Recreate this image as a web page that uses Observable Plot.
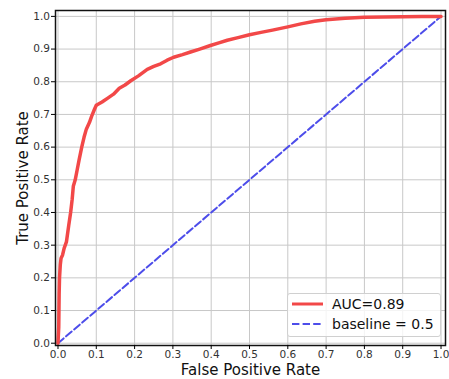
<!DOCTYPE html>
<html>
<head>
<meta charset="utf-8">
<script src="https://cdn.jsdelivr.net/npm/d3@7"></script>
<script src="https://cdn.jsdelivr.net/npm/@observablehq/plot@0.6"></script>
<style>
  html, body { margin: 0; padding: 0; background: #fff; }
  #wrap { position: relative; width: 449px; height: 379px; font-family: "DejaVu Sans", sans-serif; }
  #wrap svg { font-family: "DejaVu Sans", sans-serif; }
  .legend { position: absolute; left: 287px; top: 293px; width: 154px; height: 44px;
    background: rgba(255,255,255,0.8); border: 1px solid #d0d0d0; border-radius: 3px; box-sizing: border-box; }
  .legend .row { position: absolute; left: 0; height: 18px; display: flex; align-items: center; font-size: 14px; color: #111; white-space: nowrap; }
  .legend svg { margin-left: 4px; margin-right: 9px; }
</style>
</head>
<body>
<div id="wrap"></div>
<script>
// ROC curve
const fpr = [0, 0.002, 0.003, 0.004, 0.006, 0.008, 0.012, 0.016, 0.022, 0.028, 0.033, 0.037, 0.040, 0.045, 0.050, 0.055, 0.062, 0.068, 0.074, 0.082, 0.088, 0.095, 0.100, 0.115, 0.130, 0.145, 0.160, 0.175, 0.190, 0.210, 0.233, 0.250, 0.268, 0.285, 0.302, 0.325, 0.346, 0.370, 0.398, 0.420, 0.442, 0.470, 0.500, 0.530, 0.560, 0.600, 0.634, 0.670, 0.700, 0.750, 0.800, 0.850, 0.900, 0.950, 1.0];
const tpr = [0, 0.05, 0.15, 0.20, 0.24, 0.26, 0.27, 0.29, 0.31, 0.36, 0.40, 0.44, 0.48, 0.50, 0.53, 0.56, 0.60, 0.63, 0.655, 0.675, 0.695, 0.715, 0.728, 0.738, 0.750, 0.762, 0.780, 0.790, 0.803, 0.818, 0.838, 0.847, 0.855, 0.866, 0.875, 0.883, 0.891, 0.900, 0.911, 0.919, 0.927, 0.935, 0.944, 0.951, 0.958, 0.968, 0.977, 0.985, 0.990, 0.994, 0.997, 0.998, 0.999, 1.0, 1.0];
// Baseline (random classifier)
const baseX = [0, 1];
const baseY = [0, 1];
// Ticks
const ticks = [0, 0.1, 0.2, 0.3, 0.4, 0.5, 0.6, 0.7, 0.8, 0.9, 1.0];
const labels = { x: "False Positive Rate", y: "True Positive Rate", auc: "AUC=0.89", base: "baseline = 0.5" };

const roc = fpr.map((x, i) => ({x, y: tpr[i]}));
const base = baseX.map((x, i) => ({x, y: baseY[i]}));

const RED = "#f24848";
const BLUE = "#4d4dea";

const chart = Plot.plot({
  width: 449,
  height: 379,
  marginLeft: 55,
  marginRight: 4,
  marginTop: 10,
  marginBottom: 34,
  x: { domain: [-0.0065, 1.0117] },
  y: { domain: [-0.007, 1.018] },
  style: { fontFamily: "DejaVu Sans, sans-serif", background: "#fff" },
  marks: [
    Plot.gridX(ticks, { stroke: "#c8c8c8", strokeOpacity: 1, strokeWidth: 1 }),
    Plot.gridY(ticks, { stroke: "#c8c8c8", strokeOpacity: 1, strokeWidth: 1 }),
    Plot.line(base, { x: "x", y: "y", stroke: BLUE, strokeWidth: 2, strokeDasharray: "7.4,3.2" }),
    Plot.line(roc, { x: "x", y: "y", stroke: RED, strokeWidth: 3.5, curve: "linear" }),
    Plot.frame({ stroke: "#111", strokeWidth: 1.5 }),
    Plot.axisX(ticks, { tickFormat: d3.format(".1f"), tickSize: 4, tickPadding: 1.5, fontSize: 10.5, fill: "#333",
      label: labels.x, labelAnchor: "center", labelArrow: "none", labelOffset: 29 }),
    Plot.axisY(ticks, { tickFormat: d3.format(".1f"), tickSize: 4, tickPadding: 1.5, fontSize: 10.5, fill: "#333",
      label: labels.y, labelAnchor: "center", labelArrow: "none", labelOffset: 38 })
  ]
});

const wrap = document.getElementById("wrap");
wrap.appendChild(chart);
d3.select(chart).selectAll('g[aria-label="x-axis label"] text, g[aria-label="y-axis label"] text')
  .style("font-size", "15px").attr("fill", "#111");

const legend = document.createElement("div");
legend.className = "legend";
legend.innerHTML = `
  <div class="row" style="top:1px"><svg width="31" height="6"><line x1="0" y1="3" x2="31" y2="3" stroke="${RED}" stroke-width="3"/></svg>${labels.auc}</div>
  <div class="row" style="top:21px"><svg width="31" height="6"><line x1="0" y1="3" x2="31" y2="3" stroke="${BLUE}" stroke-width="2" stroke-dasharray="7.4,3.2"/></svg>${labels.base}</div>`;
wrap.appendChild(legend);
</script>
</body>
</html>
